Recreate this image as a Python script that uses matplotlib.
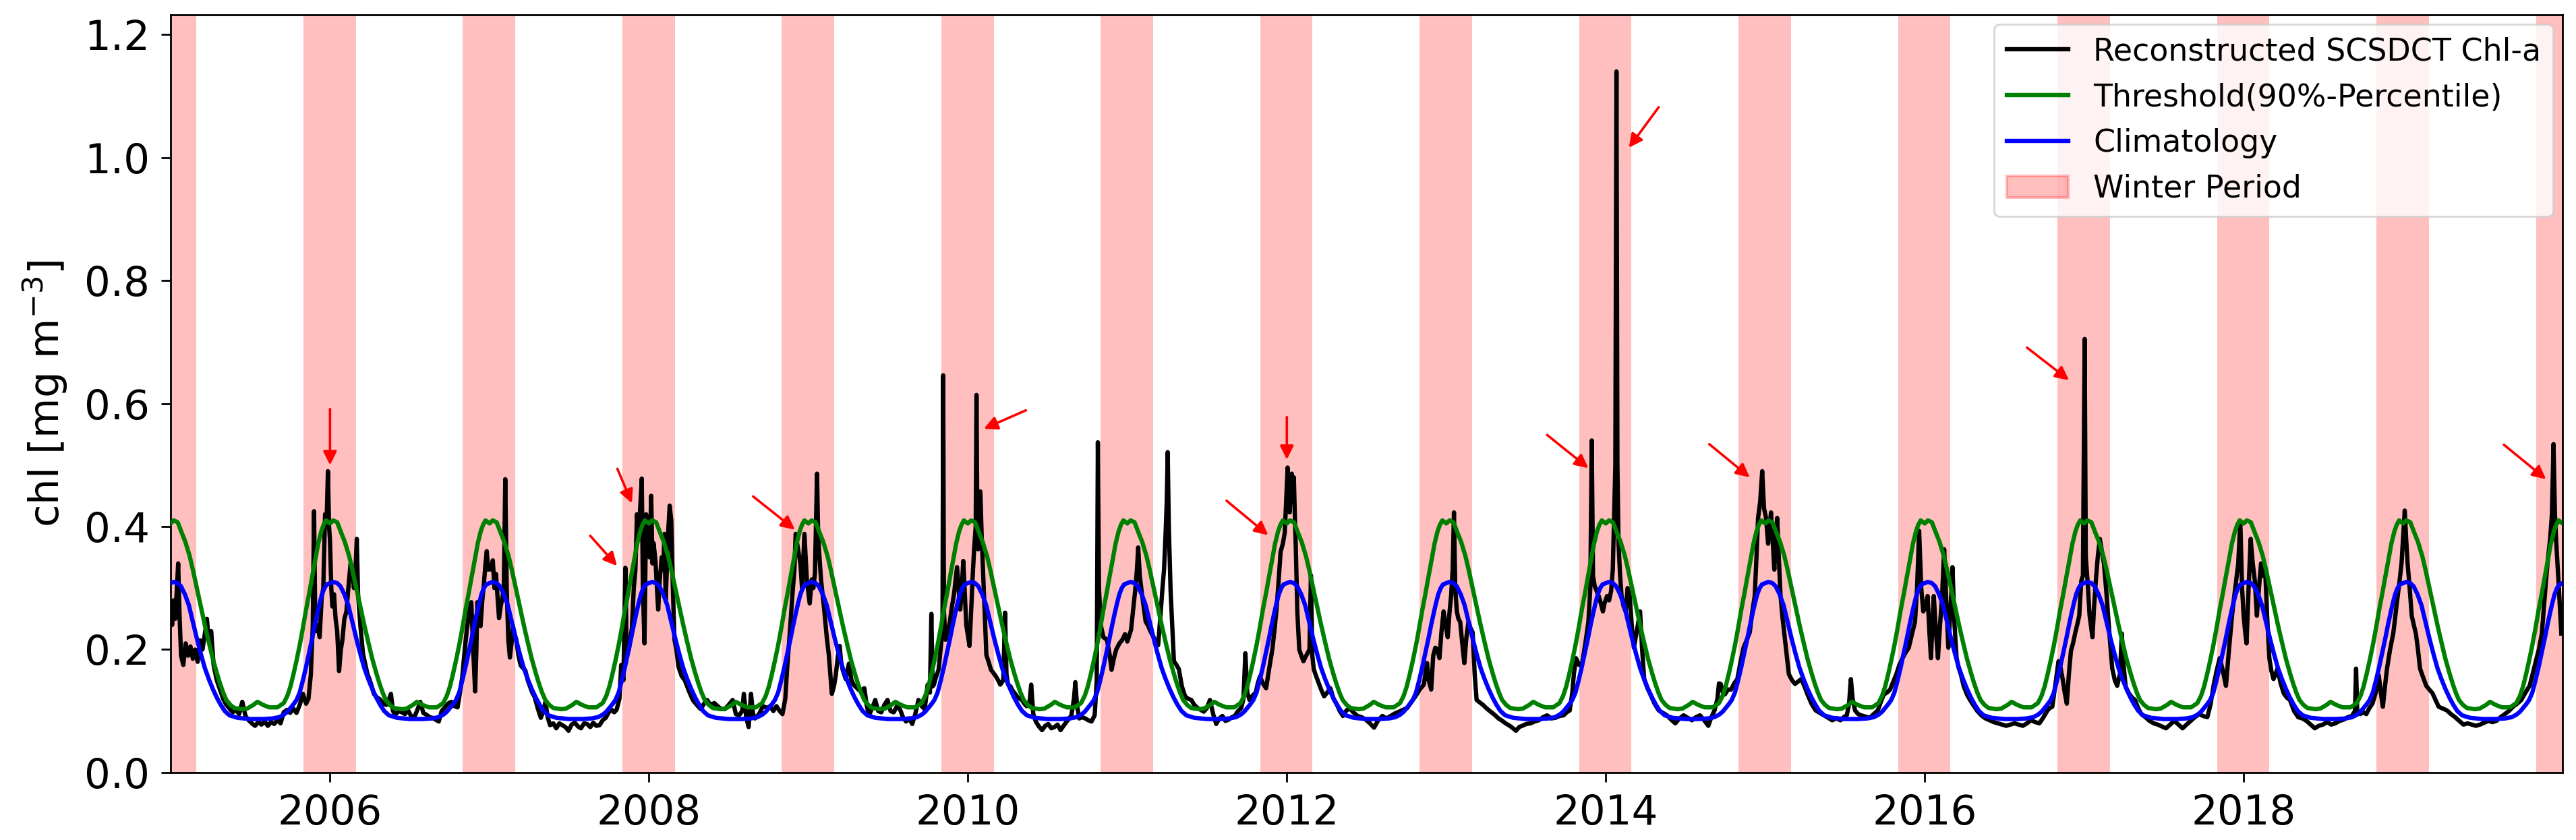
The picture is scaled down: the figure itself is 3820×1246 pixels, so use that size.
import numpy as np
import matplotlib
matplotlib.use("Agg")
import matplotlib.pyplot as plt
from matplotlib.patches import Patch
from matplotlib.lines import Line2D

plt.rcParams['font.family'] = ['DejaVu Sans']

# ---------------- data ----------------
# Reconstructed Chl-a: per-year lists of (fraction of year, value)
chl_2005 = [(0.000,0.270),(0.010,0.240),(0.020,0.280),(0.030,0.250),(0.040,0.300),(0.048,0.340),(0.056,0.260),(0.066,0.190),(0.080,0.175),(0.095,0.210),(0.110,0.190),(0.125,0.205),(0.140,0.185),(0.155,0.200),(0.170,0.180),(0.185,0.215),(0.200,0.200),(0.215,0.225),(0.228,0.250),(0.240,0.215),(0.255,0.230),(0.270,0.175),(0.290,0.150),(0.310,0.135),(0.330,0.120),(0.350,0.110),(0.370,0.104),(0.390,0.098),(0.410,0.102),(0.430,0.095),(0.450,0.115),(0.470,0.092),(0.490,0.085),(0.510,0.080),(0.530,0.076),(0.550,0.082),(0.570,0.078),(0.590,0.083),(0.610,0.076),(0.630,0.082),(0.650,0.079),(0.670,0.085),(0.690,0.080),(0.710,0.098),(0.730,0.102),(0.750,0.097),(0.770,0.104),(0.790,0.097),(0.810,0.110),(0.830,0.128),(0.850,0.112),(0.865,0.120),(0.880,0.160),(0.892,0.240),(0.900,0.425),(0.908,0.230),(0.922,0.240),(0.935,0.220),(0.948,0.285),(0.958,0.300),(0.969,0.420),(0.978,0.400),(0.987,0.490),(0.994,0.400)]
chl_2006 = [(0.000,0.377),(0.008,0.300),(0.015,0.270),(0.025,0.290),(0.035,0.250),(0.045,0.230),(0.057,0.165),(0.068,0.200),(0.078,0.216),(0.090,0.250),(0.103,0.262),(0.115,0.300),(0.129,0.340),(0.140,0.330),(0.150,0.300),(0.160,0.330),(0.168,0.380),(0.176,0.290),(0.190,0.240),(0.207,0.193),(0.222,0.175),(0.235,0.160),(0.246,0.153),(0.262,0.140),(0.275,0.128),(0.295,0.122),(0.314,0.119),(0.335,0.112),(0.353,0.110),(0.368,0.118),(0.382,0.128),(0.395,0.100),(0.410,0.094),(0.430,0.100),(0.450,0.098),(0.470,0.095),(0.488,0.102),(0.508,0.092),(0.527,0.089),(0.545,0.100),(0.566,0.115),(0.585,0.097),(0.605,0.094),(0.625,0.090),(0.643,0.089),(0.662,0.086),(0.682,0.083),(0.700,0.100),(0.720,0.106),(0.740,0.112),(0.760,0.115),(0.780,0.108),(0.800,0.106),(0.815,0.130),(0.830,0.157),(0.845,0.200),(0.857,0.230),(0.872,0.260),(0.886,0.277),(0.898,0.200),(0.910,0.132),(0.918,0.200),(0.924,0.277),(0.935,0.250),(0.944,0.238),(0.955,0.280),(0.963,0.300),(0.975,0.340),(0.983,0.360),(0.992,0.330)]
chl_2007 = [(0.000,0.336),(0.010,0.330),(0.021,0.345),(0.031,0.300),(0.041,0.323),(0.052,0.280),(0.060,0.251),(0.070,0.270),(0.079,0.281),(0.090,0.300),(0.099,0.477),(0.108,0.300),(0.118,0.217),(0.128,0.187),(0.138,0.210),(0.147,0.238),(0.157,0.225),(0.167,0.217),(0.182,0.190),(0.196,0.174),(0.210,0.170),(0.225,0.166),(0.240,0.150),(0.254,0.140),(0.268,0.130),(0.283,0.123),(0.302,0.105),(0.322,0.089),(0.337,0.100),(0.351,0.115),(0.365,0.090),(0.380,0.077),(0.400,0.080),(0.419,0.072),(0.438,0.080),(0.457,0.077),(0.476,0.074),(0.496,0.068),(0.515,0.078),(0.535,0.081),(0.555,0.075),(0.574,0.072),(0.593,0.080),(0.612,0.079),(0.632,0.074),(0.651,0.081),(0.670,0.076),(0.690,0.077),(0.710,0.085),(0.729,0.089),(0.748,0.098),(0.767,0.102),(0.782,0.098),(0.797,0.102),(0.815,0.120),(0.826,0.175),(0.840,0.150),(0.852,0.333),(0.860,0.200),(0.874,0.200),(0.893,0.234),(0.905,0.300),(0.915,0.330),(0.925,0.420),(0.935,0.380),(0.955,0.478),(0.962,0.300),(0.972,0.210),(0.982,0.420),(0.993,0.380)]
chl_2008 = [(0.004,0.350),(0.014,0.450),(0.022,0.340),(0.029,0.373),(0.041,0.344),(0.050,0.300),(0.058,0.265),(0.068,0.314),(0.080,0.350),(0.090,0.330),(0.097,0.388),(0.105,0.280),(0.120,0.388),(0.130,0.434),(0.140,0.410),(0.150,0.300),(0.160,0.216),(0.172,0.200),(0.185,0.172),(0.205,0.157),(0.225,0.150),(0.250,0.133),(0.275,0.118),(0.300,0.110),(0.325,0.103),(0.345,0.112),(0.365,0.118),(0.385,0.110),(0.410,0.113),(0.430,0.108),(0.450,0.104),(0.475,0.103),(0.500,0.110),(0.525,0.118),(0.545,0.095),(0.565,0.093),(0.585,0.100),(0.595,0.128),(0.610,0.090),(0.625,0.074),(0.640,0.128),(0.653,0.095),(0.665,0.088),(0.690,0.095),(0.715,0.108),(0.740,0.105),(0.760,0.108),(0.780,0.100),(0.800,0.108),(0.820,0.100),(0.837,0.095),(0.855,0.120),(0.866,0.167),(0.880,0.216),(0.900,0.290),(0.912,0.330),(0.920,0.388),(0.935,0.363),(0.950,0.339),(0.960,0.300),(0.975,0.388),(0.990,0.314)]
chl_2009 = [(0.008,0.275),(0.021,0.314),(0.031,0.300),(0.041,0.324),(0.054,0.486),(0.060,0.400),(0.066,0.363),(0.079,0.314),(0.099,0.265),(0.115,0.220),(0.128,0.191),(0.147,0.128),(0.160,0.140),(0.171,0.157),(0.185,0.190),(0.196,0.206),(0.205,0.180),(0.215,0.167),(0.234,0.152),(0.254,0.177),(0.270,0.150),(0.283,0.143),(0.302,0.138),(0.322,0.133),(0.351,0.137),(0.365,0.110),(0.380,0.093),(0.400,0.105),(0.419,0.118),(0.438,0.100),(0.457,0.098),(0.476,0.110),(0.496,0.118),(0.515,0.100),(0.535,0.098),(0.555,0.108),(0.574,0.103),(0.593,0.090),(0.612,0.083),(0.632,0.088),(0.651,0.079),(0.670,0.095),(0.690,0.118),(0.710,0.108),(0.729,0.103),(0.748,0.143),(0.762,0.130),(0.771,0.258),(0.779,0.140),(0.787,0.143),(0.800,0.155),(0.816,0.167),(0.835,0.216),(0.841,0.250),(0.845,0.646),(0.850,0.260),(0.860,0.216),(0.872,0.230),(0.884,0.240),(0.900,0.270),(0.913,0.290),(0.932,0.334),(0.952,0.265),(0.962,0.300),(0.971,0.344),(0.990,0.240)]
chl_2010 = [(0.010,0.206),(0.020,0.260),(0.029,0.314),(0.039,0.363),(0.049,0.400),(0.054,0.614),(0.059,0.420),(0.064,0.363),(0.071,0.400),(0.078,0.457),(0.087,0.380),(0.097,0.314),(0.107,0.250),(0.116,0.191),(0.130,0.180),(0.145,0.167),(0.160,0.162),(0.174,0.157),(0.190,0.150),(0.203,0.143),(0.222,0.150),(0.233,0.260),(0.242,0.160),(0.252,0.143),(0.267,0.140),(0.281,0.133),(0.296,0.128),(0.310,0.123),(0.325,0.120),(0.339,0.118),(0.354,0.112),(0.368,0.108),(0.385,0.110),(0.397,0.143),(0.410,0.095),(0.426,0.083),(0.445,0.075),(0.465,0.069),(0.485,0.076),(0.504,0.079),(0.523,0.072),(0.543,0.074),(0.562,0.078),(0.581,0.069),(0.600,0.076),(0.620,0.083),(0.635,0.088),(0.649,0.093),(0.665,0.120),(0.674,0.147),(0.684,0.110),(0.698,0.088),(0.717,0.090),(0.736,0.088),(0.755,0.085),(0.775,0.083),(0.795,0.093),(0.808,0.150),(0.815,0.537),(0.822,0.300),(0.833,0.240),(0.850,0.220),(0.872,0.216),(0.890,0.190),(0.901,0.167),(0.915,0.185),(0.930,0.200),(0.950,0.210),(0.969,0.216),(0.985,0.225)]
chl_2011 = [(0.000,0.213),(0.023,0.232),(0.049,0.296),(0.060,0.330),(0.068,0.366),(0.078,0.320),(0.089,0.296),(0.102,0.270),(0.115,0.245),(0.128,0.240),(0.141,0.232),(0.154,0.225),(0.167,0.219),(0.180,0.212),(0.193,0.207),(0.206,0.250),(0.219,0.296),(0.230,0.330),(0.240,0.390),(0.247,0.440),(0.253,0.521),(0.260,0.400),(0.271,0.296),(0.292,0.181),(0.308,0.175),(0.323,0.168),(0.342,0.140),(0.362,0.124),(0.381,0.120),(0.401,0.118),(0.420,0.110),(0.440,0.105),(0.460,0.102),(0.479,0.099),(0.499,0.105),(0.518,0.118),(0.538,0.095),(0.557,0.079),(0.577,0.088),(0.596,0.092),(0.615,0.084),(0.635,0.086),(0.655,0.090),(0.674,0.092),(0.694,0.100),(0.714,0.105),(0.728,0.120),(0.740,0.194),(0.752,0.130),(0.766,0.118),(0.785,0.125),(0.805,0.130),(0.818,0.145),(0.831,0.156),(0.850,0.145),(0.870,0.137),(0.890,0.170),(0.909,0.200),(0.922,0.230),(0.935,0.264),(0.948,0.310),(0.961,0.359),(0.975,0.372),(0.987,0.390)]
chl_2012 = [(0.005,0.496),(0.012,0.450),(0.018,0.423),(0.025,0.460),(0.031,0.486),(0.038,0.470),(0.044,0.480),(0.050,0.420),(0.057,0.359),(0.066,0.260),(0.078,0.200),(0.091,0.190),(0.104,0.181),(0.117,0.188),(0.130,0.194),(0.142,0.200),(0.151,0.321),(0.160,0.190),(0.169,0.168),(0.182,0.158),(0.195,0.149),(0.215,0.135),(0.234,0.124),(0.253,0.130),(0.273,0.137),(0.293,0.120),(0.313,0.111),(0.332,0.100),(0.352,0.092),(0.371,0.100),(0.391,0.105),(0.417,0.098),(0.443,0.092),(0.469,0.090),(0.495,0.086),(0.521,0.080),(0.547,0.073),(0.573,0.085),(0.599,0.092),(0.625,0.088),(0.651,0.092),(0.677,0.096),(0.703,0.099),(0.729,0.102),(0.755,0.105),(0.781,0.115),(0.807,0.124),(0.833,0.135),(0.859,0.143),(0.879,0.178),(0.890,0.150),(0.905,0.135),(0.918,0.190),(0.931,0.203),(0.944,0.200),(0.957,0.186),(0.970,0.230),(0.983,0.262),(0.992,0.245)]
chl_2013 = [(0.009,0.220),(0.020,0.260),(0.030,0.287),(0.040,0.330),(0.048,0.423),(0.056,0.300),(0.066,0.262),(0.076,0.250),(0.087,0.245),(0.100,0.210),(0.113,0.178),(0.126,0.220),(0.139,0.245),(0.152,0.235),(0.165,0.228),(0.178,0.160),(0.190,0.118),(0.210,0.114),(0.230,0.110),(0.250,0.105),(0.268,0.101),(0.288,0.097),(0.307,0.093),(0.327,0.088),(0.346,0.085),(0.372,0.080),(0.398,0.076),(0.418,0.072),(0.437,0.068),(0.457,0.074),(0.476,0.076),(0.502,0.079),(0.528,0.080),(0.554,0.083),(0.580,0.085),(0.606,0.090),(0.632,0.093),(0.658,0.088),(0.684,0.089),(0.710,0.092),(0.735,0.093),(0.755,0.098),(0.774,0.101),(0.790,0.130),(0.800,0.160),(0.813,0.186),(0.832,0.175),(0.852,0.178),(0.872,0.210),(0.891,0.245),(0.903,0.300),(0.912,0.540),(0.920,0.320),(0.930,0.304),(0.943,0.295),(0.956,0.287),(0.969,0.275),(0.982,0.262),(0.992,0.275)]
chl_2014 = [(0.008,0.287),(0.021,0.280),(0.034,0.296),(0.044,0.330),(0.052,0.414),(0.060,0.500),(0.067,1.140),(0.073,0.500),(0.080,0.372),(0.090,0.320),(0.099,0.287),(0.112,0.270),(0.125,0.262),(0.137,0.300),(0.150,0.287),(0.163,0.240),(0.176,0.203),(0.195,0.230),(0.215,0.262),(0.228,0.200),(0.241,0.152),(0.260,0.138),(0.280,0.127),(0.306,0.112),(0.332,0.101),(0.358,0.097),(0.384,0.093),(0.410,0.086),(0.436,0.080),(0.462,0.088),(0.488,0.093),(0.514,0.089),(0.540,0.085),(0.565,0.090),(0.591,0.093),(0.617,0.085),(0.643,0.076),(0.662,0.090),(0.682,0.101),(0.700,0.120),(0.710,0.145),(0.721,0.144),(0.734,0.130),(0.747,0.127),(0.766,0.135),(0.786,0.135),(0.805,0.145),(0.825,0.152),(0.845,0.180),(0.864,0.203),(0.883,0.215),(0.903,0.228),(0.918,0.260),(0.934,0.287),(0.945,0.350),(0.955,0.414),(0.968,0.440),(0.981,0.490),(0.992,0.430)]
chl_2015 = [(0.005,0.414),(0.018,0.372),(0.027,0.400),(0.036,0.423),(0.046,0.380),(0.057,0.330),(0.066,0.380),(0.075,0.414),(0.085,0.350),(0.096,0.287),(0.109,0.250),(0.122,0.220),(0.135,0.190),(0.148,0.160),(0.168,0.150),(0.187,0.144),(0.206,0.148),(0.226,0.152),(0.246,0.140),(0.265,0.127),(0.290,0.112),(0.316,0.101),(0.342,0.097),(0.368,0.093),(0.394,0.089),(0.420,0.085),(0.446,0.088),(0.472,0.085),(0.492,0.090),(0.511,0.093),(0.525,0.110),(0.537,0.152),(0.548,0.120),(0.563,0.101),(0.583,0.095),(0.602,0.093),(0.628,0.091),(0.654,0.089),(0.680,0.095),(0.706,0.101),(0.725,0.115),(0.744,0.127),(0.763,0.130),(0.783,0.135),(0.803,0.148),(0.822,0.160),(0.841,0.175),(0.861,0.186),(0.880,0.195),(0.900,0.203),(0.920,0.225),(0.939,0.245),(0.952,0.300),(0.965,0.393),(0.978,0.300),(0.991,0.262)]
chl_2016 = [(0.005,0.270),(0.018,0.287),(0.029,0.230),(0.039,0.186),(0.048,0.240),(0.057,0.287),(0.070,0.230),(0.083,0.186),(0.096,0.240),(0.109,0.287),(0.122,0.363),(0.135,0.280),(0.148,0.203),(0.161,0.260),(0.174,0.334),(0.187,0.240),(0.200,0.186),(0.213,0.170),(0.226,0.160),(0.245,0.140),(0.265,0.127),(0.284,0.118),(0.304,0.110),(0.330,0.100),(0.355,0.093),(0.381,0.088),(0.407,0.085),(0.433,0.082),(0.459,0.080),(0.485,0.078),(0.511,0.076),(0.537,0.078),(0.563,0.080),(0.589,0.078),(0.615,0.076),(0.641,0.080),(0.667,0.085),(0.693,0.082),(0.719,0.080),(0.745,0.090),(0.770,0.101),(0.785,0.105),(0.800,0.107),(0.815,0.135),(0.839,0.181),(0.852,0.170),(0.865,0.152),(0.878,0.130),(0.891,0.112),(0.904,0.160),(0.917,0.198),(0.930,0.210),(0.943,0.226),(0.956,0.240),(0.969,0.255),(0.982,0.312),(0.992,0.320)]
chl_2017 = [(0.003,0.705),(0.010,0.350),(0.021,0.312),(0.034,0.255),(0.052,0.220),(0.062,0.270),(0.073,0.312),(0.085,0.350),(0.098,0.380),(0.111,0.360),(0.124,0.340),(0.137,0.300),(0.150,0.255),(0.163,0.210),(0.176,0.169),(0.192,0.150),(0.207,0.141),(0.224,0.160),(0.236,0.226),(0.245,0.180),(0.260,0.140),(0.280,0.129),(0.300,0.122),(0.319,0.118),(0.338,0.105),(0.358,0.095),(0.384,0.090),(0.410,0.084),(0.436,0.080),(0.461,0.078),(0.487,0.075),(0.513,0.072),(0.539,0.078),(0.565,0.084),(0.591,0.078),(0.617,0.072),(0.642,0.078),(0.668,0.084),(0.694,0.090),(0.720,0.095),(0.746,0.092),(0.772,0.090),(0.792,0.110),(0.811,0.141),(0.830,0.165),(0.850,0.186),(0.870,0.165),(0.889,0.141),(0.908,0.200),(0.927,0.255),(0.940,0.285),(0.953,0.312),(0.966,0.340),(0.979,0.409),(0.990,0.300)]
chl_2018 = [(0.000,0.255),(0.009,0.230),(0.018,0.210),(0.031,0.300),(0.044,0.380),(0.057,0.340),(0.070,0.312),(0.083,0.255),(0.096,0.300),(0.109,0.340),(0.122,0.320),(0.135,0.330),(0.148,0.250),(0.161,0.186),(0.174,0.165),(0.187,0.152),(0.200,0.160),(0.212,0.169),(0.232,0.145),(0.251,0.129),(0.270,0.122),(0.290,0.118),(0.316,0.100),(0.342,0.090),(0.368,0.088),(0.394,0.084),(0.420,0.078),(0.446,0.072),(0.471,0.076),(0.497,0.078),(0.523,0.082),(0.549,0.078),(0.575,0.080),(0.601,0.084),(0.627,0.086),(0.653,0.090),(0.679,0.092),(0.698,0.100),(0.705,0.169),(0.712,0.100),(0.731,0.095),(0.750,0.098),(0.769,0.095),(0.789,0.105),(0.808,0.112),(0.828,0.130),(0.847,0.158),(0.860,0.130),(0.873,0.107),(0.886,0.140),(0.899,0.169),(0.918,0.200),(0.938,0.226),(0.951,0.255),(0.964,0.283),(0.977,0.310),(0.990,0.340)]
chl_2019 = [(0.010,0.426),(0.019,0.380),(0.028,0.340),(0.041,0.300),(0.054,0.255),(0.067,0.240),(0.080,0.226),(0.093,0.200),(0.106,0.169),(0.125,0.155),(0.145,0.141),(0.164,0.135),(0.184,0.129),(0.203,0.118),(0.223,0.107),(0.249,0.104),(0.275,0.101),(0.300,0.095),(0.326,0.090),(0.352,0.084),(0.378,0.078),(0.404,0.080),(0.430,0.078),(0.456,0.076),(0.482,0.078),(0.508,0.081),(0.534,0.084),(0.560,0.082),(0.585,0.084),(0.611,0.090),(0.637,0.095),(0.663,0.100),(0.689,0.107),(0.715,0.112),(0.741,0.118),(0.767,0.130),(0.793,0.141),(0.812,0.160),(0.832,0.181),(0.851,0.200),(0.870,0.226),(0.883,0.270),(0.896,0.312),(0.909,0.350),(0.922,0.380),(0.933,0.420),(0.943,0.534),(0.952,0.420),(0.961,0.370),(0.974,0.312),(0.992,0.226)]

chl_years = list(range(2005, 2020))
chl_by_year = [chl_2005, chl_2006, chl_2007, chl_2008, chl_2009, chl_2010, chl_2011,
               chl_2012, chl_2013, chl_2014, chl_2015, chl_2016, chl_2017, chl_2018, chl_2019]

# Climatology (annual cycle): fraction of year -> value
clim_frac = [0.000,0.020,0.045,0.065,0.090,0.115,0.140,0.165,0.190,0.215,0.240,0.265,0.290,0.315,0.340,0.370,0.420,0.500,0.580,0.640,0.680,0.710,0.733,0.752,0.771,0.790,0.810,0.830,0.850,0.870,0.888,0.905,0.920,0.935,0.950,0.965,0.980]
clim_val  = [0.308,0.310,0.308,0.303,0.290,0.272,0.245,0.218,0.193,0.170,0.152,0.136,0.122,0.110,0.100,0.093,0.089,0.087,0.087,0.088,0.090,0.094,0.099,0.105,0.111,0.118,0.130,0.150,0.172,0.196,0.218,0.240,0.258,0.275,0.290,0.300,0.306]

# Threshold (90% percentile, annual cycle)
thr_frac = [0.000,0.020,0.045,0.070,0.093,0.120,0.140,0.165,0.190,0.215,0.240,0.265,0.290,0.310,0.330,0.350,0.375,0.400,0.450,0.480,0.520,0.545,0.580,0.620,0.670,0.710,0.733,0.752,0.771,0.790,0.810,0.830,0.850,0.870,0.888,0.908,0.926,0.945,0.960,0.975]
thr_val  = [0.405,0.410,0.407,0.390,0.375,0.352,0.330,0.300,0.270,0.240,0.212,0.185,0.162,0.145,0.130,0.118,0.110,0.105,0.103,0.104,0.110,0.115,0.110,0.106,0.106,0.113,0.125,0.140,0.160,0.182,0.207,0.235,0.265,0.292,0.318,0.346,0.372,0.392,0.403,0.410]

# Winter period: 1 Nov to end of Feb (day-of-year bounds)
winter_start_doy = 305
winter_end_doy = 60
winter_years = list(range(2004, 2020))

# Red arrows marking events: tail -> tip (decimal year, chl)
arrow_tail_x = [2006.000, 2007.802, 2007.632, 2008.653, 2010.364, 2012.000, 2011.622, 2013.632, 2014.332, 2014.649, 2016.641, 2019.632]
arrow_tail_y = [0.591, 0.494, 0.385, 0.449, 0.589, 0.578, 0.442, 0.549, 1.082, 0.534, 0.691, 0.533]
arrow_tip_x  = [2006.000, 2007.893, 2007.800, 2008.915, 2010.100, 2012.000, 2011.883, 2013.891, 2014.145, 2014.903, 2016.905, 2019.896]
arrow_tip_y  = [0.500, 0.438, 0.336, 0.395, 0.559, 0.509, 0.386, 0.495, 1.016, 0.480, 0.638, 0.477]

xticks = [2006, 2008, 2010, 2012, 2014, 2016, 2018]
yticks = [0.0, 0.2, 0.4, 0.6, 0.8, 1.0, 1.2]

# ---------------- build series ----------------
t_chl, v_chl = [], []
for yr, arr in zip(chl_years, chl_by_year):
    for f, val in arr:
        t_chl.append(yr + f)
        v_chl.append(val)

cyc_years = range(2004, 2021)
t_clim = [y + f for y in cyc_years for f in clim_frac]
v_clim = [v for y in cyc_years for v in clim_val]
t_thr = [y + f for y in cyc_years for f in thr_frac]
v_thr = [v for y in cyc_years for v in thr_val]

# ---------------- plot ----------------
fig = plt.figure(figsize=(19.1, 6.23), dpi=200)
ax = fig.add_axes([0.0662, 0.0803, 0.9286, 0.9020])

for y in winter_years:
    ax.axvspan(y + (winter_start_doy - 1) / 365.0, y + 1 + (winter_end_doy - 1) / 365.0,
               facecolor='red', alpha=0.25, lw=0, zorder=0)

LW = 2.3
ax.plot(t_chl, v_chl, color='black', lw=LW, zorder=2)
ax.plot(t_thr, v_thr, color='green', lw=LW, zorder=3)
ax.plot(t_clim, v_clim, color='blue', lw=LW, zorder=4)

for x0, y0, x1, y1 in zip(arrow_tail_x, arrow_tail_y, arrow_tip_x, arrow_tip_y):
    ax.annotate('', xy=(x1, y1), xytext=(x0, y0),
                arrowprops=dict(arrowstyle='-|>', color='red', lw=1.3,
                                mutation_scale=15, shrinkA=0, shrinkB=0),
                zorder=6)

ax.set_xlim(2005.0, 2020.0)
ax.set_ylim(0.0, 1.232)
ax.set_xticks(xticks)
ax.set_xticklabels([str(x) for x in xticks])
ax.set_yticks(yticks)
ax.set_yticklabels(['%.1f' % y for y in yticks])
ax.tick_params(axis='both', labelsize=22, length=5, width=1.0, pad=6)
for s in ax.spines.values():
    s.set_linewidth(1.0)
ax.set_ylabel('chl [mg m$^{-3}$]', fontsize=22, labelpad=8)

handles = [Line2D([], [], color='black', lw=LW),
           Line2D([], [], color='green', lw=LW),
           Line2D([], [], color='blue', lw=LW),
           Patch(facecolor='red', edgecolor='red', alpha=0.25, lw=1.5)]
labels = ['Reconstructed SCSDCT Chl-a', 'Threshold(90%-Percentile)', 'Climatology', 'Winter Period']
ax.legend(handles, labels, loc='upper right', fontsize=16.5, borderaxespad=0.3, framealpha=0.8)

fig.savefig('out.png', dpi=200)
